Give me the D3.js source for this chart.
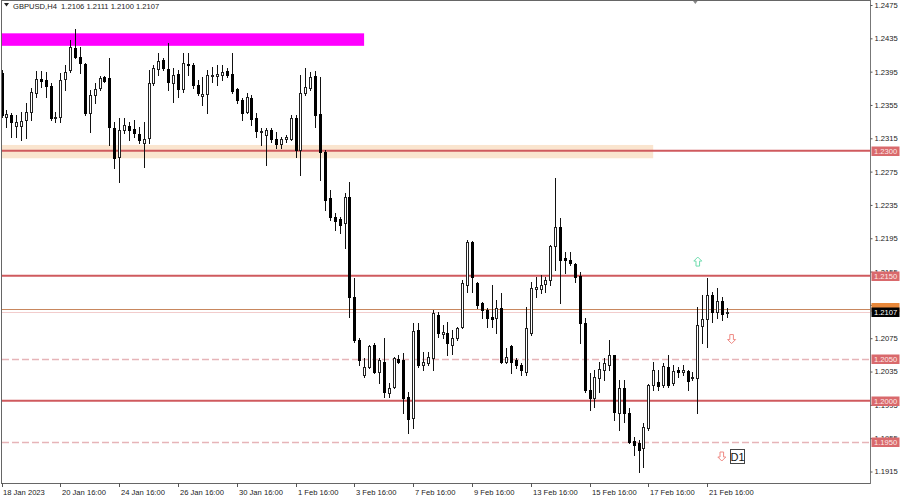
<!DOCTYPE html>
<html><head><meta charset="utf-8">
<script src="https://cdn.jsdelivr.net/npm/d3@7/dist/d3.min.js"></script>
<style>
html,body{margin:0;padding:0;background:#fff;}
svg{display:block;font-family:"Liberation Sans",Arial,sans-serif;}
</style></head><body>
<svg id="chart" width="900" height="496"></svg>
<script>
// ---- DATA (GBPUSD H4, bars from 18 Jan 2023 16:00) ----
const opens = [1.2393,1.2341,1.2343,1.2330,1.2330,1.2337,1.2347,1.2369,1.2386,1.2385,
1.2378,1.2339,1.2341,1.2386,1.2397,1.2423,1.2413,1.2404,1.2345,1.2367,
1.2375,1.2389,1.2387,1.2327,1.2293,1.2325,1.2330,1.2326,1.2320,1.2309,
1.2315,1.2381,1.2398,1.2409,1.2398,1.2381,1.2392,1.2374,1.2404,1.2403,
1.2379,1.2366,1.2368,1.2390,1.2390,1.2391,1.2396,1.2392,1.2374,1.2361,
1.2347,1.2363,1.2339,1.2323,1.2319,1.2325,1.2314,1.2308,1.2314,1.2314,
1.2339,1.2301,1.2369,1.2375,1.2390,1.2344,1.2299,1.2243,1.2221,1.2218,
1.2213,1.2245,1.2125,1.2073,1.2031,1.2041,1.2067,1.2035,1.2046,1.2009,
1.2016,1.2050,1.2049,1.2004,1.1979,1.2085,1.2043,1.2045,1.2051,1.2103,
1.2080,1.2081,1.2067,1.2075,1.2088,1.2139,1.2191,1.2141,1.2117,1.2109,
1.2100,1.2099,1.2111,1.2046,1.2066,1.2049,1.2043,1.2034,1.2081,1.2134,
1.2134,1.2140,1.2145,1.2186,1.2209,1.2171,1.2169,1.2164,1.2150,1.2093,
1.2013,1.2003,1.2027,1.2037,1.2043,1.2055,1.1985,1.2015,1.1985,1.1952,
1.1949,1.1943,1.1967,1.2019,1.2022,1.2019,1.2041,1.2021,1.2037,1.2035,
1.2036,1.2027,1.2027,1.2090,1.2098,1.2127,1.2107,1.2120,1.2106];
const highs = [1.2397,1.2349,1.2345,1.2343,1.2347,1.2357,1.2375,1.2396,1.2396,1.2395,
1.2381,1.2347,1.2393,1.2403,1.2433,1.2446,1.2425,1.2405,1.2373,1.2381,
1.2390,1.2390,1.2411,1.2335,1.2339,1.2339,1.2335,1.2337,1.2329,1.2335,
1.2397,1.2403,1.2417,1.2411,1.2429,1.2399,1.2397,1.2417,1.2417,1.2405,
1.2385,1.2389,1.2397,1.2401,1.2403,1.2403,1.2399,1.2417,1.2375,1.2363,
1.2369,1.2367,1.2345,1.2327,1.2327,1.2327,1.2323,1.2317,1.2319,1.2343,
1.2343,1.2391,1.2399,1.2395,1.2396,1.2389,1.2301,1.2253,1.2225,1.2221,
1.2249,1.2263,1.2147,1.2075,1.2051,1.2067,1.2069,1.2051,1.2075,1.2021,
1.2052,1.2055,1.2057,1.2010,1.2093,1.2093,1.2058,1.2058,1.2109,1.2106,
1.2091,1.2094,1.2085,1.2088,1.2145,1.2193,1.2192,1.2142,1.2118,1.2111,
1.2139,1.2121,1.2129,1.2063,1.2067,1.2051,1.2045,1.2112,1.2142,1.2148,
1.2151,1.2148,1.2187,1.2267,1.2219,1.2178,1.2178,1.2165,1.2155,1.2099,
1.2033,1.2037,1.2046,1.2051,1.2073,1.2055,1.2025,1.2025,1.1991,1.1957,
1.1953,1.1973,1.2020,1.2046,1.2037,1.2045,1.2055,1.2043,1.2040,1.2043,
1.2037,1.2035,1.2112,1.2127,1.2147,1.2131,1.2135,1.2125,1.2111];
const lows = [1.2341,1.2329,1.2317,1.2317,1.2313,1.2315,1.2337,1.2365,1.2377,1.2365,
1.2337,1.2335,1.2335,1.2373,1.2395,1.2411,1.2393,1.2343,1.2323,1.2357,
1.2373,1.2383,1.2307,1.2279,1.2263,1.2321,1.2313,1.2317,1.2309,1.2281,
1.2309,1.2379,1.2391,1.2397,1.2373,1.2359,1.2365,1.2371,1.2391,1.2375,
1.2367,1.2355,1.2345,1.2383,1.2379,1.2385,1.2389,1.2369,1.2357,1.2337,
1.2345,1.2331,1.2317,1.2307,1.2283,1.2311,1.2303,1.2303,1.2311,1.2313,
1.2293,1.2271,1.2367,1.2373,1.2329,1.2265,1.2229,1.2217,1.2205,1.2201,
1.2183,1.2101,1.2071,1.2043,1.2029,1.2039,1.2033,1.2021,1.2004,1.2004,
1.2015,1.2045,1.1985,1.1961,1.1967,1.2041,1.2037,1.2043,1.2037,1.2076,
1.2075,1.2055,1.2056,1.2073,1.2087,1.2131,1.2131,1.2111,1.2099,1.2088,
1.2088,1.2081,1.2045,1.2045,1.2033,1.2039,1.2031,1.2031,1.2079,1.2124,
1.2129,1.2131,1.2139,1.2157,1.2117,1.2153,1.2163,1.2142,1.2069,1.2010,
1.1989,1.1992,1.2010,1.2025,1.2037,1.1977,1.1965,1.1975,1.1949,1.1935,
1.1915,1.1921,1.1965,1.2013,1.2013,1.2016,1.2016,1.2019,1.2029,1.2031,
1.2013,1.2025,1.1985,1.2069,1.2064,1.2095,1.2099,1.2097,1.2100];
const closes = [1.2343,1.2344,1.2335,1.2335,1.2336,1.2347,1.2371,1.2386,1.2384,1.2378,
1.2339,1.2341,1.2385,1.2395,1.2425,1.2413,1.2405,1.2345,1.2367,1.2374,
1.2387,1.2384,1.2329,1.2291,1.2325,1.2331,1.2325,1.2321,1.2313,1.2314,
1.2381,1.2399,1.2408,1.2399,1.2383,1.2391,1.2374,1.2405,1.2403,1.2379,
1.2369,1.2368,1.2391,1.2391,1.2392,1.2395,1.2391,1.2372,1.2361,1.2345,
1.2365,1.2338,1.2324,1.2324,1.2325,1.2314,1.2308,1.2314,1.2317,1.2339,
1.2301,1.2369,1.2377,1.2389,1.2343,1.2299,1.2241,1.2221,1.2216,1.2211,
1.2245,1.2125,1.2073,1.2049,1.2041,1.2066,1.2035,1.2049,1.2010,1.2015,
1.2051,1.2046,1.2003,1.1978,1.2084,1.2043,1.2046,1.2052,1.2105,1.2081,
1.2082,1.2069,1.2075,1.2087,1.2141,1.2191,1.2149,1.2115,1.2109,1.2099,
1.2098,1.2111,1.2046,1.2052,1.2046,1.2043,1.2037,1.2087,1.2135,1.2136,
1.2139,1.2145,1.2186,1.2209,1.2169,1.2169,1.2165,1.2149,1.2093,1.2013,
1.2003,1.2029,1.2038,1.2045,1.2055,1.1986,1.2015,1.1985,1.1951,1.1947,
1.1941,1.1968,1.2019,1.2037,1.2018,1.2042,1.2019,1.2036,1.2035,1.2037,
1.2024,1.2029,1.2091,1.2098,1.2127,1.2107,1.2120,1.2104,1.2107];

const priceTicks = [1.2475,1.2435,1.2395,1.2355,1.2315,1.2275,1.2235,1.2195,1.2155,1.2115,1.2075,1.2035,1.1995,1.1955,1.1915];
const timeTickBars = [0,12,24,36,48,60,72,84,96,108,120,132,144];
const timeTickLabels = ["18 Jan 2023","20 Jan 16:00","24 Jan 16:00","26 Jan 16:00","30 Jan 16:00","1 Feb 16:00","3 Feb 16:00","7 Feb 16:00","9 Feb 16:00","13 Feb 16:00","15 Feb 16:00","17 Feb 16:00","21 Feb 16:00"];
const solidLevels = [1.2300,1.2150,1.2000];
const dashedLevels = [1.2050,1.1950];
const bidPrice = 1.2107;
const markLevel = 1.2110;
const zoneTop = [1.2441,1.2307];
const zoneBottom = [1.2426,1.2291];
const zoneEndBar = [74,133];
const headerText = "GBPUSD,H4  1.2106 1.2111 1.2100 1.2107";

// ---- SCALES ----
const svg = d3.select("#chart");
const plot = {l:2, r:870, t:0, b:483};
const x = d3.scaleLinear().domain([0,148]).range([1.5,726.7]);
const y = d3.scaleLinear().domain([1.1915,1.2475]).range([471.5,5]);

svg.append("rect").attr("width",900).attr("height",496).attr("fill","#fff");

svg.append("defs").append("clipPath").attr("id","clip")
  .append("rect").attr("x",plot.l).attr("y",plot.t).attr("width",plot.r-plot.l).attr("height",plot.b-plot.t);
const g = svg.append("g").attr("clip-path","url(#clip)");

// zones
const zoneColors = ["#ff00ff","#fae5cf"];
g.selectAll("rect.zone").data(zoneTop).join("rect").attr("class","zone")
  .attr("x",plot.l).attr("y",(d)=>y(d))
  .attr("width",(d,i)=>x(zoneEndBar[i])-plot.l)
  .attr("height",(d,i)=>y(zoneBottom[i])-y(d))
  .attr("fill",(d,i)=>zoneColors[i]);

// dashed levels
g.selectAll("line.dash").data(dashedLevels).join("line")
  .attr("x1",plot.l).attr("x2",plot.r)
  .attr("y1",d=>Math.round(y(d))+0.5).attr("y2",d=>Math.round(y(d))+0.5)
  .attr("stroke","#e6b4b8").attr("stroke-width",1.6).attr("stroke-dasharray","7,3");
// mark & bid lines
g.append("line").attr("x1",plot.l).attr("x2",plot.r)
  .attr("y1",Math.round(y(markLevel))+0.5).attr("y2",Math.round(y(markLevel))+0.5)
  .attr("stroke","#c8875e").attr("stroke-width",1);
g.append("line").attr("x1",plot.l).attr("x2",plot.r)
  .attr("y1",Math.round(y(bidPrice))+0.5).attr("y2",Math.round(y(bidPrice))+0.5)
  .attr("stroke","#f2cccc").attr("stroke-width",1);
// solid levels
g.selectAll("line.solid").data(solidLevels).join("line")
  .attr("x1",plot.l).attr("x2",plot.r)
  .attr("y1",d=>y(d)).attr("y2",d=>y(d))
  .attr("stroke","#cf5a5e").attr("stroke-width",2);

// candles
const idx = d3.range(opens.length);
const cg = g.append("g").attr("shape-rendering","crispEdges");
cg.selectAll("line.wick").data(idx).join("line")
  .attr("x1",i=>Math.round(x(i))+0.5).attr("x2",i=>Math.round(x(i))+0.5)
  .attr("y1",i=>Math.round(y(highs[i]))).attr("y2",i=>Math.round(y(lows[i]))+1)
  .attr("stroke","#111").attr("stroke-width",1);
cg.selectAll("rect.body").data(idx).join("rect")
  .attr("x",i=>Math.round(x(i))-1+(closes[i]>=opens[i]?0.5:0))
  .attr("y",i=>Math.round(y(Math.max(opens[i],closes[i])))+(closes[i]>=opens[i]?0.5:0))
  .attr("width",i=>closes[i]>=opens[i]?2:3)
  .attr("height",i=>Math.max(1,Math.round(y(Math.min(opens[i],closes[i])))-Math.round(y(Math.max(opens[i],closes[i])))+(closes[i]>=opens[i]?0:1)))
  .attr("fill",i=>closes[i]>=opens[i]?"#fff":"#000")
  .attr("stroke",i=>closes[i]>=opens[i]?"#222":"none")
  .attr("stroke-width",1);

// annotations: arrows and D1
function upArrow(cx,cy){return `M${cx},${cy-4.5} L${cx+4},${cy-0.5} L${cx+1.8},${cy-0.5} L${cx+1.8},${cy+4.5} L${cx-1.8},${cy+4.5} L${cx-1.8},${cy-0.5} L${cx-4},${cy-0.5} Z`;}
function downArrow(cx,cy){return `M${cx},${cy+4.5} L${cx+4},${cy+0.5} L${cx+1.8},${cy+0.5} L${cx+1.8},${cy-4.5} L${cx-1.8},${cy-4.5} L${cx-1.8},${cy+0.5} L${cx-4},${cy+0.5} Z`;}
g.append("path").attr("d",upArrow(x(142.1),y(1.2167))).attr("fill","#fff").attr("stroke","#6fdcae").attr("stroke-width",1);
g.append("path").attr("d",downArrow(x(149),y(1.2074))).attr("fill","#fff").attr("stroke","#ef8a84").attr("stroke-width",1);
g.append("path").attr("d",downArrow(x(147),y(1.1933))).attr("fill","#fff").attr("stroke","#ef8a84").attr("stroke-width",1);
const d1x = x(148.6), d1y = y(1.1934);
g.append("rect").attr("x",Math.round(d1x)+0.5).attr("y",Math.round(d1y-7)+0.5).attr("width",14).attr("height",14)
  .attr("fill","#fff").attr("stroke","#444").attr("stroke-width",1);
g.append("text").attr("x",Math.round(d1x)+7.5).attr("y",Math.round(d1y)+4.5).attr("text-anchor","middle")
  .attr("font-size",11).attr("fill","#111").text("D1");
// shift marker
svg.append("path").attr("d",`M${x(141.6)-3},0 L${x(141.6)+3},0 L${x(141.6)},4 Z`).attr("fill","#888");

// frame
const fr = svg.append("g").attr("shape-rendering","crispEdges").attr("stroke","#666").attr("fill","none");
fr.append("line").attr("x1",plot.l-0.5).attr("x2",plot.l-0.5).attr("y1",0).attr("y2",plot.b+1);
fr.append("line").attr("x1",plot.l).attr("x2",plot.r).attr("y1",0.5).attr("y2",0.5);
fr.append("line").attr("x1",plot.l-1).attr("x2",plot.r+1).attr("y1",plot.b+0.5).attr("y2",plot.b+0.5);

// price axis
const ax = svg.append("g").attr("transform",`translate(${plot.r+0.5},0)`)
  .call(d3.axisRight(y).tickValues(priceTicks).tickSize(2).tickPadding(2).tickFormat(d3.format(".4f")));
ax.select(".domain").attr("stroke","#777").attr("d",`M0,0V${plot.b+1}`);
ax.selectAll(".tick line").attr("stroke","#555");
ax.selectAll(".tick text").attr("font-size","7.6px").attr("fill","#222").attr("font-family","Liberation Sans, Arial, sans-serif");

// level labels on axis
function axisBox(price,fill,txtColor,label){
  const cy = Math.round(y(price));
  svg.append("rect").attr("x",plot.r+1.5).attr("y",cy-4.5).attr("width",28).attr("height",9.5).attr("fill",fill);
  svg.append("text").attr("x",plot.r+4).attr("y",cy+3).attr("font-size","7.6px").attr("fill",txtColor).text(label);
}
svg.append("rect").attr("x",plot.r+1.5).attr("y",Math.round(y(markLevel))-6).attr("width",28).attr("height",9).attr("fill","#e8883a");
solidLevels.concat(dashedLevels).forEach(p=>axisBox(p,"#d9696c","#fde9e9",d3.format(".4f")(p)));
axisBox(bidPrice,"#000","#fff",d3.format(".4f")(bidPrice));

// time axis
const tg = svg.append("g");
tg.selectAll("line").data(timeTickBars).join("line").attr("shape-rendering","crispEdges")
  .attr("x1",(d,i)=>i===0?plot.l+0.5:Math.round(x(d))+0.5).attr("x2",(d,i)=>i===0?plot.l+0.5:Math.round(x(d))+0.5)
  .attr("y1",plot.b).attr("y2",plot.b+4).attr("stroke","#555");
tg.selectAll("text").data(timeTickBars).join("text")
  .attr("x",(d,i)=>i===0?plot.l+1:Math.round(x(d))+2).attr("y",495)
  .attr("font-size","7.6px").attr("fill","#222").text((d,i)=>timeTickLabels[i]);

// header
svg.append("path").attr("d","M4,3 L9,3 L6.5,6.5 Z").attr("fill","#222");
svg.append("text").attr("x",13).attr("y",8.5).attr("font-size","7.6px").attr("fill","#222").attr("xml:space","preserve").text(headerText);
</script>
</body></html>
